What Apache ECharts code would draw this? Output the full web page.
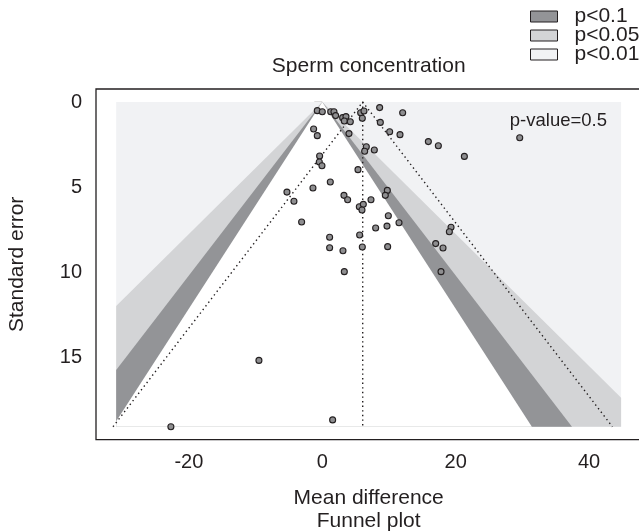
<!DOCTYPE html>
<html>
<head>
<meta charset="utf-8">
<script src="https://cdn.jsdelivr.net/npm/echarts@6/dist/echarts.min.js"></script>
<style>html,body{margin:0;padding:0;background:#fff;}#c{width:639px;height:532px;}</style>
</head>
<body>
<div id="c"></div>
<script>
// ---- data ----
const studyMD = [-0.75, 0, 1.26, 1.75, 2.0, 3.05, 3.55, 3.3, 4.2, 5.75, 6.25, 6.0, 8.6, 12.05, 8.7, 10.1, 11.65, 15.9, 17.4, 21.3,
  -1.3, -0.75, 4.0, 6.6, 6.35, 7.8, -0.4, -0.45, -0.05, 5.35, 1.2, -1.4, -4.25, 3.25, 3.8, 7.3, 5.55, 6.15, 5.95, 9.75,
  9.45, -3.1, 9.9, 11.5, 9.7, 8.0, 5.6, 1.1, 1.1, 3.1, 6.0, 9.8, 19.3, 19.05, 17.0, 18.1, 17.8, 3.3, -5.3, -9.5,
  -22.7, 1.55, 29.6];
const studySE = [0.51, 0.57, 0.57, 0.57, 0.80, 0.92, 0.86, 1.12, 1.16, 0.63, 0.53, 0.96, 0.33, 0.63, 1.2, 1.75, 1.92, 2.33, 2.57, 3.2,
  1.59, 1.98, 1.86, 2.63, 2.9, 2.82, 3.18, 3.53, 3.75, 3.98, 4.71, 5.06, 5.84, 5.49, 5.75, 5.75, 6.16, 6.02, 6.35, 5.2,
  5.49, 7.06, 6.69, 7.1, 7.3, 7.41, 7.82, 7.96, 8.57, 8.75, 8.53, 8.51, 7.37, 7.63, 8.33, 8.59, 9.98, 9.98, 5.3, 15.2,
  19.1, 18.7, 2.1];
const pooledEstimate = 6.06;
const ciZ = 1.96;
const contourNames = ['p<0.01', 'p<0.05', 'p<0.1'];
const contourZ = [2.576, 1.96, 1.645];     // boundaries; inside 1.645 is non-significant (white)
const contourColors = ['#f1f2f4', '#d3d4d6', '#939497', '#ffffff'];
const plotXLimits = [-30.9, 44.8];
const plotSEMax = 19.1;
const xTicks = [-20, 0, 20, 40];
const yTicks = [0, 5, 10, 15];
const pValueText = 'p-value=0.5';
const titleText = 'Sperm concentration';

// ---- build ----
const FONT = '"Liberation Sans", Arial, Helvetica, sans-serif';
const INK = '#231f20';
const xPad = (plotXLimits[1] - plotXLimits[0]) * 0.04;
const yPad = plotSEMax * 0.04;

function clipX(poly, xl, xr) {
  function clip(pts, inside, inter) {
    const out = [];
    for (let i = 0; i < pts.length; i++) {
      const a = pts[i], b = pts[(i + 1) % pts.length];
      const ia = inside(a), ib = inside(b);
      if (ia) out.push(a);
      if (ia !== ib) out.push(inter(a, b));
    }
    return out;
  }
  const interAt = x => (a, b) => { const t = (x - a[0]) / (b[0] - a[0]); return [x, a[1] + t * (b[1] - a[1])]; };
  let p = clip(poly, q => q[0] >= xl, interAt(xl));
  p = clip(p, q => q[0] <= xr, interAt(xr));
  return p;
}

const regionPolys = [];
regionPolys.push([[plotXLimits[0], 0], [plotXLimits[1], 0], [plotXLimits[1], plotSEMax], [plotXLimits[0], plotSEMax]]);
contourZ.forEach(z => {
  regionPolys.push(clipX([[0, 0], [z * plotSEMax, plotSEMax], [-z * plotSEMax, plotSEMax]], plotXLimits[0], plotXLimits[1]));
});

const regionSeries = regionPolys.map((poly, i) => ({
  type: 'custom',
  name: i < 3 ? contourNames[i] : 'ns',
  coordinateSystem: 'cartesian2d',
  silent: true,
  z: 1,
  itemStyle: { color: contourColors[i] },
  data: [[poly[0][0], poly[0][1]]],
  renderItem: function (params, api) {
    return {
      type: 'polygon',
      shape: { points: poly.map(p => api.coord(p)) },
      style: { fill: contourColors[i], stroke: null }
    };
  }
}));

const dotted = { color: INK, width: 1.4, type: [1.4, 3.2] };
const points = studyMD.map((m, i) => [m, studySE[i]]);

const chart = echarts.init(document.getElementById('c'), null, { renderer: 'canvas' });
chart.setOption({
  animation: false,
  textStyle: { fontFamily: FONT },
  grid: { left: 96, top: 89, width: 545.3, height: 350.7, show: true, borderColor: INK, borderWidth: 1.3,
    backgroundColor: 'transparent', outerBoundsMode: 'none', containLabel: false },
  legend: {
    data: ['p<0.1', 'p<0.05', 'p<0.01'],
    orient: 'vertical', left: 530, top: 6, padding: 0,
    itemWidth: 27, itemHeight: 11, itemGap: -2,
    icon: 'rect',
    itemStyle: { borderColor: INK, borderWidth: 1 },
    textStyle: { fontSize: 21, color: INK, fontFamily: FONT, padding: [0, 0, 0, 12] },
    selectedMode: false
  },
  xAxis: {
    type: 'value', min: plotXLimits[0] - xPad, max: plotXLimits[1] + xPad,
    name: 'Mean difference\nFunnel plot', nameLocation: 'middle', nameGap: 47,
    nameTextStyle: { fontSize: 21, color: INK, lineHeight: 23, fontFamily: FONT },
    axisLine: { show: false },
    axisTick: { show: true, length: 6, lineStyle: { color: INK, width: 1.3 }, customValues: xTicks },
    axisLabel: { fontSize: 20, color: INK, margin: 13, customValues: xTicks, fontFamily: FONT },
    splitLine: { show: false }
  },
  yAxis: {
    type: 'value', inverse: true, min: -yPad, max: plotSEMax + yPad,
    name: 'Standard error', nameLocation: 'middle', nameGap: 68,
    nameTextStyle: { fontSize: 21, color: INK, fontFamily: FONT },
    axisLine: { show: false },
    axisTick: { show: true, length: 8, lineStyle: { color: INK, width: 1.3 }, customValues: yTicks },
    axisLabel: { fontSize: 20, color: INK, margin: 14, customValues: yTicks, fontFamily: FONT },
    splitLine: { show: false }
  },
  graphic: [
    { type: 'text', x: 368.7, y: 66, z: 10,
      style: { text: titleText, fontSize: 21, fill: INK, fontFamily: FONT, align: 'center', verticalAlign: 'middle' } },
    { type: 'text', x: 607, y: 121, z: 10,
      style: { text: pValueText, fontSize: 18.5, fill: INK, fontFamily: FONT, align: 'right', verticalAlign: 'middle' } }
  ],
  series: regionSeries.concat([
    { type: 'line', name: 'ci', data: [[pooledEstimate - ciZ * plotSEMax, plotSEMax], [pooledEstimate, 0], [pooledEstimate + ciZ * plotSEMax, plotSEMax]],
      symbol: 'none', lineStyle: dotted, z: 3, silent: true },
    { type: 'line', name: 'est', data: [[pooledEstimate, 0], [pooledEstimate, plotSEMax]],
      symbol: 'none', lineStyle: dotted, z: 3, silent: true },
    { type: 'scatter', name: 'studies', data: points, symbol: 'circle', symbolSize: 6, z: 5,
      itemStyle: { color: '#8e8e90', borderColor: INK, borderWidth: 1.1, opacity: 1 } }
  ])
});
</script>
</body>
</html>
